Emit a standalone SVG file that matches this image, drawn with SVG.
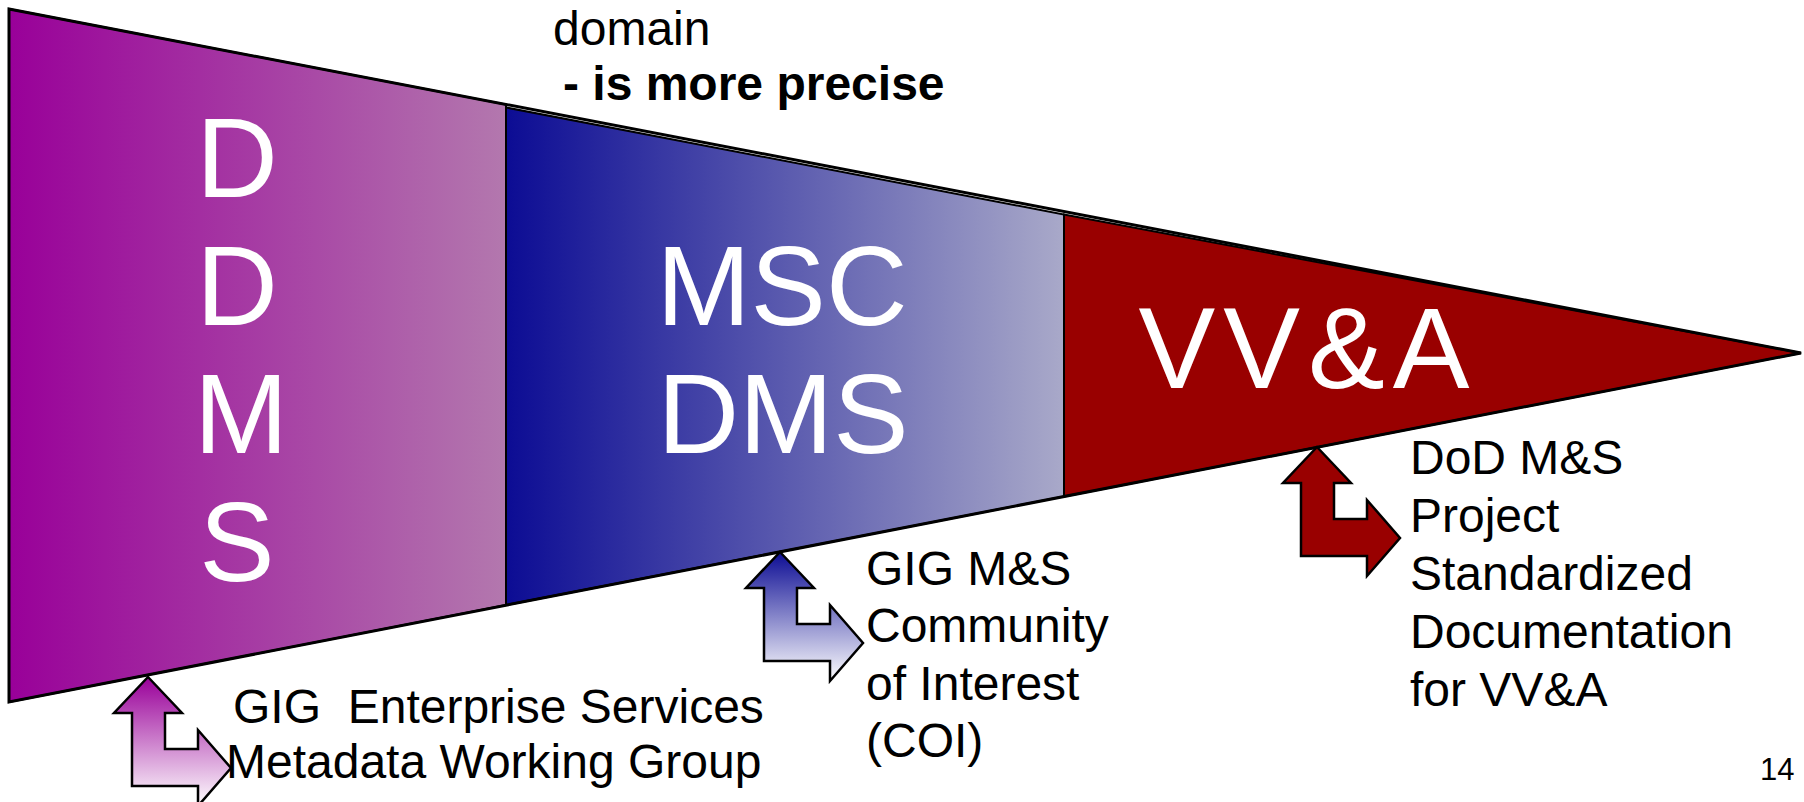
<svg xmlns="http://www.w3.org/2000/svg" width="1804" height="802" viewBox="0 0 1804 802">
  <defs>
    <linearGradient id="gPurple" gradientUnits="userSpaceOnUse" x1="9" y1="0" x2="506" y2="0">
      <stop offset="0" stop-color="#990099"/>
      <stop offset="1" stop-color="#b378ae"/>
    </linearGradient>
    <linearGradient id="gBlue" gradientUnits="userSpaceOnUse" x1="506" y1="0" x2="1064" y2="0">
      <stop offset="0" stop-color="#0c0c94"/>
      <stop offset="1" stop-color="#a9a9c9"/>
    </linearGradient>
    <linearGradient id="gArrowPurple" x1="0" y1="0" x2="0" y2="1">
      <stop offset="0" stop-color="#990099"/>
      <stop offset="1" stop-color="#ffffff"/>
    </linearGradient>
    <linearGradient id="gArrowBlue" x1="0" y1="0" x2="0" y2="1">
      <stop offset="0" stop-color="#0c0c94"/>
      <stop offset="1" stop-color="#ffffff"/>
    </linearGradient>
    <path id="bentArrow" d="M0,0 L34,36 L17,36 L17,72 L50,72 L50,53 L83,91 L50,129 L50,109 L-16,109 L-16,36 L-34,36 Z"/>
  </defs>
  <style>
    .sec { stroke: #000; stroke-width: 2; stroke-linejoin: miter; }
    .big { fill: #ffffff; font-family: "Liberation Sans", Arial, sans-serif; text-anchor: middle; }
    .lbl { fill: #000; font-family: "Liberation Sans", Arial, sans-serif; font-size: 48px; }
    .arrow { stroke: #000; stroke-width: 2.5; stroke-linejoin: miter; }
  </style>
  <rect width="1804" height="802" fill="#ffffff"/>

  <g id="ddms">
    <polygon class="sec" fill="url(#gPurple)" points="9,9 506,104.5 506,605 9,702"/>
    <text class="big" font-size="113" x="237" y="197">D</text>
    <text class="big" font-size="113" x="237" y="325">D</text>
    <text class="big" font-size="113" x="241" y="453">M</text>
    <text class="big" font-size="113" x="237" y="581">S</text>
  </g>

  <g id="mscdms">
    <polygon class="sec" fill="url(#gBlue)" points="506,107.5 1064,214.5 1064,496.5 506,605"/>
    <text class="big" font-size="113" x="782" y="325">MSC</text>
    <text class="big" font-size="113" x="783" y="453">DMS</text>
  </g>

  <g id="vva">
    <polygon class="sec" fill="#990000" points="1064,214.5 1801,353 1064,496.5"/>
    <text class="big" font-size="115" x="1308" y="388" letter-spacing="8">VV&amp;A</text>
  </g>

  <g id="outline">
    <polygon points="9,9 1801,353 9,702" fill="none" stroke="#000" stroke-width="3" stroke-linejoin="miter"/>
  </g>

  <g id="caption">
    <text class="lbl" x="553" y="45">domain</text>
    <text class="lbl" x="563" y="100" font-weight="bold">- is more precise</text>
  </g>

  <g id="connectors">
    <use href="#bentArrow" class="arrow" fill="url(#gArrowPurple)" transform="translate(148,677)"/>
    <use href="#bentArrow" class="arrow" fill="url(#gArrowBlue)" transform="translate(780,552)"/>
    <use href="#bentArrow" class="arrow" fill="#990000" transform="translate(1317,447)"/>
  </g>

  <g id="label-gig-es">
    <text class="lbl" x="233" y="723" xml:space="preserve">GIG  Enterprise Services</text>
    <text class="lbl" x="226" y="778">Metadata Working Group</text>
  </g>

  <g id="label-gig-ms">
    <text class="lbl" x="866" y="585">GIG M&amp;S</text>
    <text class="lbl" x="866" y="642">Community</text>
    <text class="lbl" x="866" y="700">of Interest</text>
    <text class="lbl" x="866" y="757">(COI)</text>
  </g>

  <g id="label-dod">
    <text class="lbl" x="1410" y="474">DoD M&amp;S</text>
    <text class="lbl" x="1410" y="532">Project</text>
    <text class="lbl" x="1410" y="590">Standardized</text>
    <text class="lbl" x="1410" y="648">Documentation</text>
    <text class="lbl" x="1410" y="706">for VV&amp;A</text>
  </g>

  <g id="page-number">
    <text x="1760" y="780" font-family="Liberation Sans, Arial, sans-serif" font-size="31" fill="#000">14</text>
  </g>
</svg>
